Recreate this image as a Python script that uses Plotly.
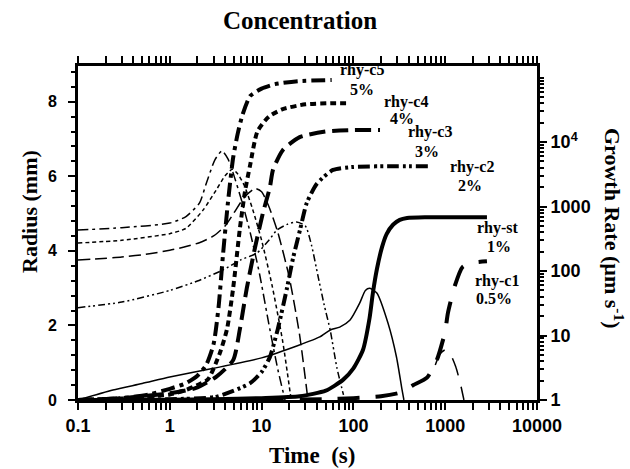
import plotly.graph_objects as go

# ---------------- data ----------------
# Radius (mm) curves, left axis
t_c5_r = [0.1, 0.3, 0.6, 1.0, 1.5, 2.0, 2.5, 3.0, 3.4, 3.8, 4.3, 4.9, 5.5, 6.2, 7.5, 10, 14, 25, 58]
r_c5 = [0.0, 0.05, 0.15, 0.3, 0.45, 0.65, 0.95, 1.5, 2.5, 3.9, 5.3, 6.5, 7.15, 7.65, 8.15, 8.35, 8.47, 8.55, 8.58]

t_c4_r = [0.1, 0.3, 0.6, 1.0, 1.5, 2.0, 2.6, 3.5, 4.2, 4.9, 5.8, 6.6, 7.5, 9, 12, 17, 30, 60, 92]
r_c4 = [0.0, 0.04, 0.1, 0.15, 0.27, 0.4, 0.55, 1.25, 1.9, 3.0, 4.6, 5.6, 6.3, 7.2, 7.6, 7.8, 7.93, 7.96, 7.96]

t_c3_r = [0.1, 0.3, 0.6, 1.0, 1.9, 3.2, 4.9, 5.8, 6.9, 8.5, 10.3, 12.3, 13.3, 17, 26, 50, 100, 195]
r_c3 = [0.0, 0.05, 0.12, 0.18, 0.32, 0.62, 1.07, 1.9, 3.0, 4.1, 5.0, 5.7, 6.17, 6.7, 7.05, 7.2, 7.24, 7.24]

t_c2_r = [0.1, 0.5, 1, 3.1, 5, 7.5, 10, 12.3, 15, 18.9, 22, 26.2, 31, 40, 60, 100, 300, 700]
r_c2 = [0.0, 0.01, 0.02, 0.08, 0.25, 0.45, 0.75, 1.15, 1.9, 3.0, 3.8, 4.56, 5.28, 5.8, 6.17, 6.25, 6.27, 6.27]

t_st_r = [0.1, 0.3, 1, 3, 10, 26, 50, 77, 100, 127, 150, 163, 180, 205, 230, 270, 320, 384, 600, 1000, 2850]
r_st = [0.0, 0.0, 0.01, 0.02, 0.05, 0.1, 0.25, 0.54, 0.85, 1.34, 2.2, 2.87, 3.5, 4.1, 4.45, 4.7, 4.83, 4.88, 4.9, 4.9, 4.9]

t_c1_r = [10, 50, 100, 200, 324, 450, 633, 810, 995, 1070, 1280, 1550, 2000, 2850]
r_c1 = [0.0, 0.02, 0.05, 0.1, 0.2, 0.4, 0.6, 1.07, 1.82, 2.33, 3.08, 3.57, 3.68, 3.72]

# Growth rate (um/s) curves, right axis
t_c5_g = [0.1, 0.3, 1.0, 1.5, 2.1, 2.5, 3.1, 3.7, 4.3, 4.9, 6, 7.5, 9.5, 12, 15, 18]
g_c5 = [432, 470, 555, 700, 1130, 2300, 5300, 7300, 5500, 3300, 1300, 400, 90, 15, 3, 1]

t_c4_g = [0.1, 0.3, 1.0, 1.5, 2.3, 3.2, 4.0, 4.8, 5.5, 6.5, 8, 10, 13, 17, 21]
g_c4 = [272, 300, 380, 460, 880, 1800, 3000, 3800, 3200, 2100, 900, 300, 60, 8, 1]

t_c3_g = [0.1, 0.3, 0.6, 1.0, 1.5, 2.1, 3, 4, 5, 6.5, 8.5, 10, 12, 15, 20, 26, 32]
g_c3 = [148, 165, 185, 210, 240, 275, 350, 500, 800, 1400, 1900, 1700, 1000, 400, 80, 10, 1]

t_c2_g = [0.1, 0.3, 1, 2, 3.8, 6, 8.9, 12, 14.7, 19, 24, 30, 35, 41, 48, 56, 66, 78]
g_c2 = [27, 33, 50, 70, 104, 150, 190, 300, 432, 530, 575, 500, 250, 86, 30, 12, 3.2, 1.2]

t_st_g = [0.1, 0.24, 0.5, 1, 3, 10, 25, 43, 56, 71, 92, 117, 135, 151, 180, 238, 295, 339, 355]
g_st = [1, 1.43, 1.8, 2.27, 3.1, 4.5, 7, 9.5, 12.2, 13.5, 17.4, 31.7, 50, 54, 45.6, 15.6, 4.6, 1.43, 1]

t_c1_g = [780, 880, 1000, 1150, 1300, 1450, 1600]
g_c1 = [3.5, 5.2, 6.0, 5.0, 3.3, 1.9, 1.0]

labels = [("rhy-c5", "5%"), ("rhy-c4", "4%"), ("rhy-c3", "3%"),
          ("rhy-c2", "2%"), ("rhy-st", "1%"), ("rhy-c1", "0.5%")]

x_tickvals = [0.1, 1, 10, 100, 1000, 10000]
x_ticktext = ["0.1", "1", "10", "100", "1000", "10000"]
y_tickvals = [0, 2, 4, 6, 8]
y2_tickvals = [1, 10, 100, 1000, 10000]
y2_ticktext = ["1", "10", "100", "1000", "10<sup>4</sup>"]

# ---------------- figure ----------------
fig = go.Figure()

thick = 4
thin = 1.5
styles = {
    "c5": "14px,5px,4px,5px",
    "c4": "6px,4px",
    "c3": "16px,7px",
    "c2": "12px,4px,3px,3px,3px,4px",
    "st": "solid",
    "c1": "22px,16px",
}
thin_styles = {
    "c5": "10px,4px,3px,4px",
    "c4": "4px,3px",
    "c3": "12px,5px",
    "c2": "7px,3px,2px,3px,2px,3px",
    "st": "solid",
    "c1": "18px,12px",
}

radius = [("c5", t_c5_r, r_c5), ("c4", t_c4_r, r_c4), ("c3", t_c3_r, r_c3),
          ("c2", t_c2_r, r_c2), ("st", t_st_r, r_st), ("c1", t_c1_r, r_c1)]
growth = [("c5", t_c5_g, g_c5), ("c4", t_c4_g, g_c4), ("c3", t_c3_g, g_c3),
          ("c2", t_c2_g, g_c2), ("st", t_st_g, g_st), ("c1", t_c1_g, g_c1)]

for key, t, r in radius:
    fig.add_trace(go.Scatter(x=t, y=r, mode="lines", yaxis="y", showlegend=False,
                             line=dict(color="black", width=thick, dash=styles[key],
                                       shape="spline", smoothing=0.6)))
for key, t, g in growth:
    fig.add_trace(go.Scatter(x=t, y=g, mode="lines", yaxis="y2", showlegend=False,
                             line=dict(color="black", width=thin, dash=thin_styles[key],
                                       shape="spline", smoothing=0.6)))

serif = "Liberation Serif"
sans = "Liberation Sans"

label_pos = [(362, 70, 362, 89), (406, 102, 402, 118), (430, 132, 427, 151),
             (472, 167, 470, 185), (498, 228, 499, 246), (497, 281, 494, 298)]
L, R, T, B = 78, 537, 66, 400
annotations = []
for (name, pct), (x1, y1, x2, y2) in zip(labels, label_pos):
    for txt, xx, yy in ((name, x1, y1), (pct, x2, y2)):
        annotations.append(dict(text=txt, xref="paper", yref="paper",
                                x=(xx - L) / (R - L), y=(B - yy) / (B - T),
                                showarrow=False, xanchor="center", yanchor="middle",
                                font=dict(family=serif, size=16, color="black", weight="bold")))

annotations.append(dict(text="Growth Rate (µm s<sup>-1</sup>)", xref="paper", yref="paper",
                        x=(614 - L) / (R - L), y=(B - 228) / (B - T), textangle=90,
                        showarrow=False, xanchor="center", yanchor="middle",
                        font=dict(family=serif, size=22, color="black", weight="bold")))
annotations.append(dict(text="Radius (mm)", xref="paper", yref="paper",
                        x=(29 - L) / (R - L), y=(B - 212) / (B - T), textangle=-90,
                        showarrow=False, xanchor="center", yanchor="middle",
                        font=dict(family=serif, size=22, color="black", weight="bold")))
annotations.append(dict(text="Time  (s)", xref="paper", yref="paper",
                        x=(312 - L) / (R - L), y=(B - 455) / (B - T),
                        showarrow=False, xanchor="center", yanchor="middle",
                        font=dict(family=serif, size=23, color="black", weight="bold")))

fig.update_layout(
    width=630, height=469,
    margin=dict(l=L, r=630 - R, t=T, b=469 - B, pad=0),
    paper_bgcolor="white", plot_bgcolor="white",
    title=dict(text="Concentration", x=(300 - L) / (R - L), xref="paper", xanchor="center",
               y=1 - 20 / 469, yref="container", yanchor="middle",
               font=dict(family=serif, size=25, color="black", weight="bold")),
    annotations=annotations,
    xaxis=dict(type="log", range=[-1, 4], showgrid=False, zeroline=False,
               showline=True, linecolor="black", linewidth=3, mirror="allticks",
               ticks="outside", ticklen=7, tickwidth=2, tickcolor="black",
               tickvals=x_tickvals, ticktext=x_ticktext,
               tickfont=dict(family=sans, size=18, color="black", weight="bold"),
               minor=dict(ticks="outside", ticklen=4, tickwidth=1.5, tickcolor="black",
                          dtick="D1", showgrid=False)),
    yaxis=dict(range=[0, 8.957], showgrid=False, zeroline=False,
               showline=True, linecolor="black", linewidth=3,
               ticks="outside", ticklen=7, tickwidth=2, tickcolor="black",
               tickvals=y_tickvals, ticklabelstandoff=8,
               tickfont=dict(family=sans, size=16, color="black", weight="bold"),
               minor=dict(ticks="outside", ticklen=4, tickwidth=1.5, tickcolor="black",
                          dtick=0.4, showgrid=False)),
    yaxis2=dict(type="log", range=[0, 5.18], overlaying="y", side="right",
                showgrid=False, zeroline=False,
                showline=True, linecolor="black", linewidth=3,
                ticks="outside", ticklen=7, tickwidth=2, tickcolor="black",
                tickvals=y2_tickvals, ticktext=y2_ticktext,
                tickfont=dict(family=sans, size=18, color="black", weight="bold"),
                minor=dict(ticks="outside", ticklen=4, tickwidth=1.5, tickcolor="black",
                           dtick="D1", showgrid=False)),
)

fig.write_html("out.html")
